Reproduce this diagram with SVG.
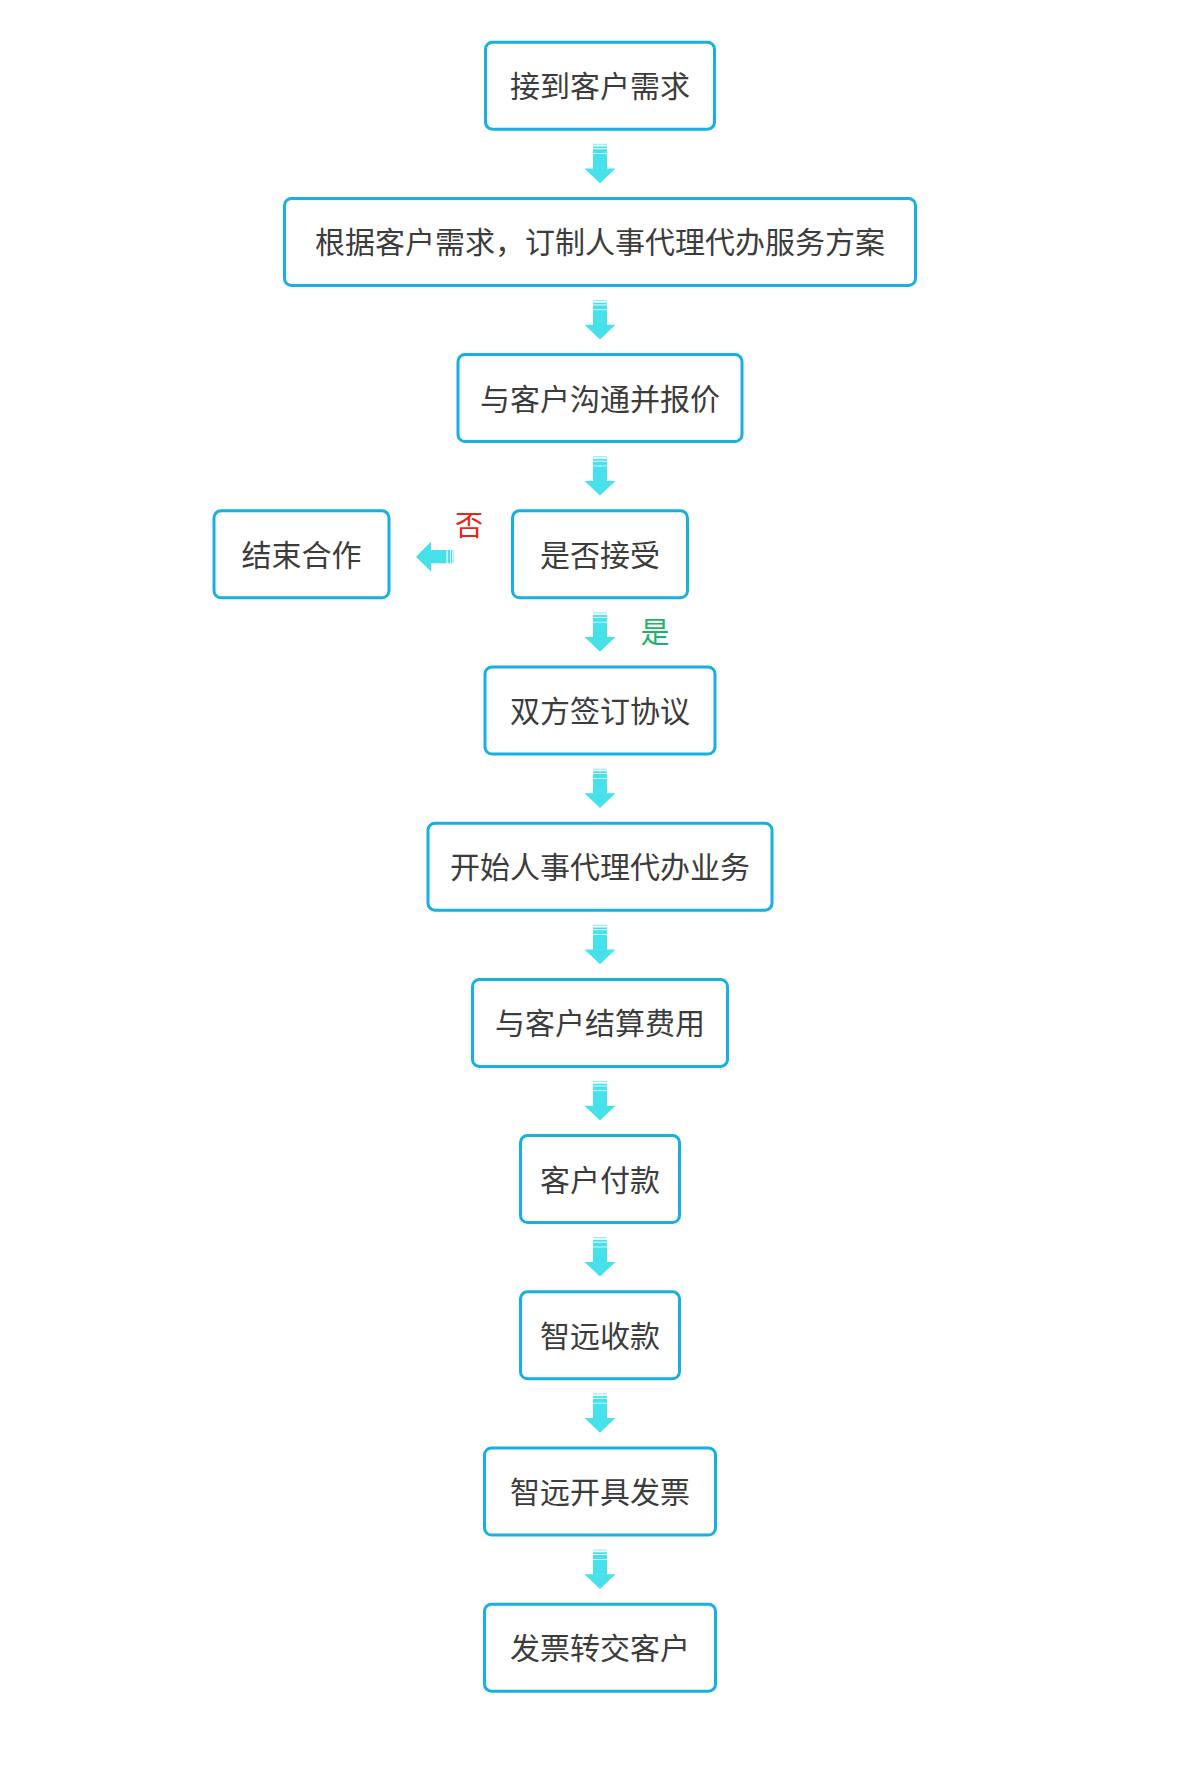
<svg xmlns="http://www.w3.org/2000/svg" xmlns:xlink="http://www.w3.org/1999/xlink" width="1200" height="1779" viewBox="0 0 1200 1779">
<style>
.box{fill:#fff;stroke:#16B0E2;stroke-width:3}
.t{font-family:"Noto Sans CJK SC","Noto Sans",sans-serif;font-size:30px;fill:#3c3c3c;text-anchor:middle}
.arr{fill:#46E1EB}
.no{font-family:"Noto Sans CJK SC",sans-serif;font-size:28px;fill:#E8261A;text-anchor:middle}
.yes{font-family:"Noto Sans CJK SC",sans-serif;font-size:29px;fill:#1DB46A;text-anchor:middle}
</style>
<defs>
<g id="down" class="arr">
<rect x="593" y="13" width="14" height="1.3" opacity="0.5"/>
<rect x="593" y="15.8" width="14" height="1.8"/>
<rect x="593" y="18.5" width="14" height="4"/>
<rect x="593" y="23.2" width="14" height="15"/>
<polygon points="584.5,37.8 615.5,37.8 600,52.5"/>
</g>
</defs>
<rect width="1200" height="1779" fill="#fff"/>
<g id="connectors">
<use xlink:href="#down" href="#down" transform="translate(0,130.7)"/>
<use xlink:href="#down" href="#down" transform="translate(0,286.9)"/>
<use xlink:href="#down" href="#down" transform="translate(0,443.1)"/>
<use xlink:href="#down" href="#down" transform="translate(0,599.3)"/>
<use xlink:href="#down" href="#down" transform="translate(0,755.5)"/>
<use xlink:href="#down" href="#down" transform="translate(0,911.7)"/>
<use xlink:href="#down" href="#down" transform="translate(0,1067.9)"/>
<use xlink:href="#down" href="#down" transform="translate(0,1224.1)"/>
<use xlink:href="#down" href="#down" transform="translate(0,1380.3)"/>
<use xlink:href="#down" href="#down" transform="translate(0,1536.5)"/>
<g id="left-arrow" class="arr">
<polygon points="416,556.7 431,541.7 431,571.7"/>
<rect x="430.5" y="550" width="16" height="13.3"/>
<rect x="447.7" y="550" width="2.3" height="13.3"/>
<rect x="451" y="550" width="1.3" height="13.3"/>
<rect x="453.3" y="550" width="1" height="13.3" opacity="0.5"/>
</g>
<text class="no" x="469" y="535.6">否</text>
<text class="yes" x="655" y="642.7">是</text>
</g>
<g id="n1"><rect class="box" x="485.5" y="42.2" width="229" height="87" rx="7"/><text class="t" x="600" y="97.2">接到客户需求</text></g>
<g id="n2"><rect class="box" x="284.5" y="198.4" width="631" height="87" rx="7"/><text class="t" x="600" y="253.4">根据客户需求，订制人事代理代办服务方案</text></g>
<g id="n3"><rect class="box" x="458" y="354.6" width="284" height="87" rx="7"/><text class="t" x="600" y="409.6">与客户沟通并报价</text></g>
<g id="n4"><rect class="box" x="512.5" y="510.8" width="175" height="87" rx="7"/><text class="t" x="600" y="565.8">是否接受</text></g>
<g id="n4b"><rect class="box" x="214" y="510.8" width="175" height="87" rx="7"/><text class="t" x="301.5" y="565.8">结束合作</text></g>
<g id="n5"><rect class="box" x="485" y="667" width="230" height="87" rx="7"/><text class="t" x="600" y="722">双方签订协议</text></g>
<g id="n6"><rect class="box" x="428" y="823.2" width="344" height="87" rx="7"/><text class="t" x="600" y="878.2">开始人事代理代办业务</text></g>
<g id="n7"><rect class="box" x="472.5" y="979.4" width="255" height="87" rx="7"/><text class="t" x="600" y="1034.4">与客户结算费用</text></g>
<g id="n8"><rect class="box" x="520.5" y="1135.6" width="159" height="87" rx="7"/><text class="t" x="600" y="1190.6">客户付款</text></g>
<g id="n9"><rect class="box" x="520.5" y="1291.8" width="159" height="87" rx="7"/><text class="t" x="600" y="1346.8">智远收款</text></g>
<g id="n10"><rect class="box" x="484.5" y="1448" width="231" height="87" rx="7"/><text class="t" x="600" y="1503">智远开具发票</text></g>
<g id="n11"><rect class="box" x="484.5" y="1604.2" width="231" height="87" rx="7"/><text class="t" x="600" y="1659.2">发票转交客户</text></g>
</svg>
